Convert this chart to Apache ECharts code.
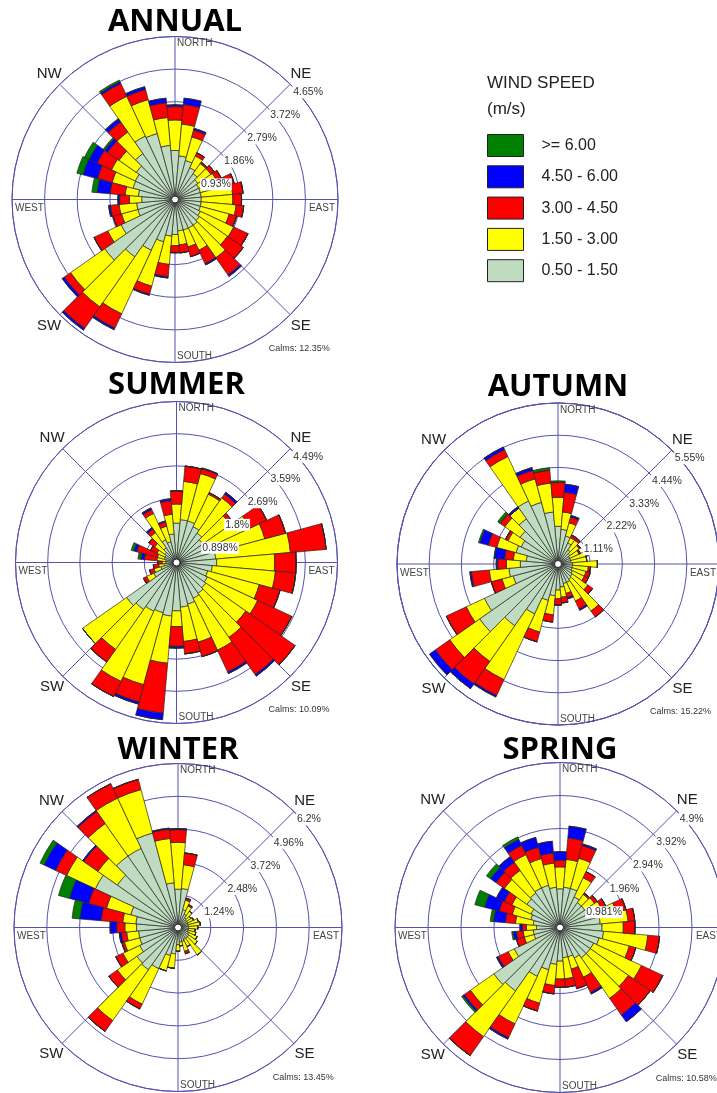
<!DOCTYPE html>
<html>
<head>
<meta charset="utf-8">
<title>Wind roses</title>
<script src="https://cdn.jsdelivr.net/npm/echarts@6/dist/echarts.min.js"></script>
<style>
  html, body { margin: 0; padding: 0; background: #fff; }
  #chart { width: 717px; height: 1093px; }
</style>
</head>
<body>
<div id="chart"></div>
<script>
// 36 sectors of 10 degrees, clockwise from north
const directions = ['0', '10', '20', '30', '40', '50', '60', '70', '80', '90', '100', '110',
  '120', '130', '140', '150', '160', '170', '180', '190', '200', '210', '220', '230',
  '240', '250', '260', '270', '280', '290', '300', '310', '320', '330', '340', '350'];

// inner to outer (stack order)
const speedClasses = ['0.50 - 1.50', '1.50 - 3.00', '3.00 - 4.50', '4.50 - 6.00', '>= 6.00'];
const speedColors = ['#c0dcc0', '#ffff00', '#ff0000', '#0000ff', '#008000'];

// ---- ANNUAL (% of time) ----
const annualRings = [0.93, 1.86, 2.79, 3.72, 4.65];
const annualCalms = 12.35;
const annual050 = [1.40, 1.25, 1.15, 1.00, 0.90, 0.80, 0.75, 0.75, 0.75, 0.75, 0.75, 0.75, 0.80, 0.85, 0.90, 0.90, 0.90, 0.90, 1.00, 1.05, 1.25, 1.60, 2.00, 2.45, 1.70, 1.10, 1.10, 0.95, 1.05, 1.24, 1.25, 1.35, 1.60, 2.00, 1.95, 1.55];
const annual150 = [0.87, 0.91, 0.70, 0.37, 0.35, 0.45, 0.55, 0.75, 0.90, 0.90, 1.00, 0.85, 1.05, 0.98, 1.13, 0.70, 0.50, 0.40, 0.32, 0.81, 1.31, 2.00, 1.74, 1.19, 0.42, 0.48, 0.50, 0.35, 0.38, 0.62, 0.75, 0.60, 0.75, 1.25, 1.00, 0.80];
const annual300 = [0.38, 0.56, 0.20, 0.10, 0.05, 0.12, 0.15, 0.25, 0.30, 0.25, 0.22, 0.22, 0.45, 0.55, 0.60, 0.42, 0.29, 0.23, 0.20, 0.35, 0.24, 0.45, 0.75, 0.22, 0.43, 0.25, 0.25, 0.28, 0.43, 0.43, 0.45, 0.40, 0.35, 0.40, 0.30, 0.42];
const annual450 = [0.05, 0.18, 0.05, 0, 0, 0, 0, 0, 0, 0, 0, 0, 0, 0, 0.05, 0.04, 0, 0, 0, 0.04, 0.03, 0.05, 0.06, 0.07, 0, 0, 0.05, 0.05, 0.37, 0.43, 0.25, 0.10, 0.10, 0.06, 0.08, 0.13];
const annual600 = [0, 0, 0, 0, 0, 0, 0, 0, 0, 0, 0, 0, 0, 0, 0, 0, 0, 0, 0, 0, 0, 0, 0, 0, 0, 0, 0, 0, 0.15, 0.18, 0.15, 0.05, 0.02, 0.05, 0, 0];

// ---- SUMMER ----
const summerRings = [0.898, 1.8, 2.69, 3.59, 4.49];
const summerCalms = 10.09;
const summer050 = [1.1, 1.2, 1.2, 1.1, 1.0, 0.9, 1.0, 1.05, 1.1, 1.12, 1.0, 0.9, 0.95, 1.0, 1.05, 1.1, 1.2, 1.25, 1.35, 1.5, 1.45, 1.5, 1.6, 1.7, 0.7, 0.45, 0.35, 0.3, 0.3, 0.35, 0.35, 0.4, 0.5, 0.7, 0.6, 0.8];
const summer150 = [0.53, 1.07, 1.37, 1.0, 1.2, 0.94, 1.25, 1.5, 2.09, 1.62, 1.77, 1.49, 1.55, 1.36, 1.5, 1.6, 1.1, 0.96, 0.44, 1.32, 2.08, 2.16, 1.36, 1.5, 0.22, 0.2, 0.15, 0.1, 0.25, 0.2, 0.25, 0.35, 0.52, 0.81, 0.45, 0.55];
const summer300 = [0.37, 0.43, 0.14, 0.05, 0.13, 0.1, 0.53, 0.6, 1.0, 0.6, 0.57, 0.6, 1.05, 1.68, 1.27, 0.67, 0.42, 0.35, 0.55, 1.4, 0.5, 0.47, 0.43, 0, 0.1, 0.13, 0.15, 0.12, 0.35, 0.6, 0.2, 0.2, 0.12, 0.12, 0.12, 0.38];
const summer450 = [0, 0, 0.02, 0, 0.06, 0, 0, 0, 0, 0, 0, 0, 0, 0, 0.05, 0.05, 0, 0, 0.05, 0.18, 0.06, 0, 0, 0, 0, 0, 0, 0, 0.1, 0.08, 0, 0, 0.05, 0.05, 0.03, 0.05];
const summer600 = [0, 0, 0, 0, 0, 0, 0, 0, 0, 0, 0, 0, 0, 0, 0, 0, 0, 0, 0, 0, 0, 0, 0, 0, 0, 0, 0, 0, 0.08, 0.08, 0, 0, 0, 0, 0, 0];

// ---- AUTUMN ----
const autumnRings = [1.11, 2.22, 3.33, 4.44, 5.55];
const autumnCalms = 15.22;
const autumn050 = [1.3, 1.2, 1.0, 0.8, 0.6, 0.5, 0.45, 0.45, 0.45, 0.5, 0.5, 0.5, 0.55, 0.6, 0.65, 0.7, 0.7, 0.8, 0.9, 1.1, 1.3, 1.9, 2.6, 3.3, 2.8, 1.6, 1.7, 1.3, 1.1, 1.5, 1.4, 1.6, 1.9, 2.4, 2.2, 1.8];
const autumn150 = [1.0, 0.6, 0.47, 0.2, 0.4, 0.4, 0.35, 0.55, 0.55, 0.86, 0.55, 0.5, 0.45, 0.66, 1.33, 0.71, 0.35, 0.35, 0.3, 0.66, 1.13, 2.5, 1.5, 1.26, 0.69, 0.4, 0.68, 0.48, 0.45, 0.69, 0.5, 0.64, 0.45, 1.69, 0.84, 1.0];
const autumn300 = [0.52, 0.68, 0.2, 0.1, 0.08, 0.05, 0.05, 0.08, 0, 0, 0.08, 0.15, 0.15, 0.2, 0.25, 0.3, 0.15, 0.2, 0.22, 0.25, 0.35, 0.6, 0.95, 0.6, 0.76, 0.38, 0.62, 0.3, 0.3, 0.3, 0.1, 0.2, 0, 0.26, 0.3, 0.45];
const autumn450 = [0, 0.28, 0.06, 0, 0, 0, 0, 0, 0, 0, 0, 0, 0, 0, 0, 0.05, 0.05, 0, 0, 0, 0, 0.06, 0.2, 0.25, 0, 0, 0.05, 0.05, 0.35, 0.3, 0, 0, 0.06, 0.1, 0.1, 0];
const autumn600 = [0.05, 0, 0, 0, 0, 0, 0, 0, 0, 0, 0, 0, 0, 0, 0, 0, 0, 0, 0, 0, 0, 0, 0, 0, 0, 0, 0, 0, 0.02, 0.05, 0, 0.1, 0, 0, 0, 0.08];

// ---- WINTER ----
const winterRings = [1.24, 2.48, 3.72, 4.96, 6.2];
const winterCalms = 13.45;
const winter050 = [1.45, 1.48, 0.7, 0.55, 0.45, 0.4, 0.4, 0.4, 0.4, 0.4, 0.4, 0.4, 0.45, 0.5, 0.5, 0.5, 0.55, 0.55, 0.65, 1.0, 1.1, 1.72, 1.95, 1.9, 1.6, 1.5, 1.5, 1.57, 1.6, 1.85, 3.45, 2.8, 3.3, 3.3, 3.7, 1.7];
const winter150 = [1.77, 0.9, 0.37, 0.35, 0.3, 0.2, 0.25, 0.4, 0.45, 0.35, 0.25, 0.3, 0.35, 0.4, 0.77, 0.3, 0.38, 0.15, 0.25, 0.55, 0.6, 1.48, 2.35, 0.9, 0.7, 0.6, 0.45, 0.44, 0.5, 0.95, 1.2, 0.9, 1.5, 2.1, 1.7, 1.68];
const winter300 = [0.48, 0.45, 0.08, 0.05, 0, 0, 0, 0, 0, 0, 0, 0, 0, 0, 0, 0, 0.1, 0, 0, 0, 0, 0.2, 0.5, 0.4, 0.3, 0.1, 0.2, 0.31, 0.82, 0.7, 0.46, 0.65, 0.55, 0.6, 0.4, 0.35];
const winter450 = [0.04, 0, 0, 0, 0, 0, 0, 0, 0, 0, 0, 0, 0, 0, 0, 0, 0, 0, 0, 0, 0, 0, 0, 0, 0, 0, 0.08, 0.25, 0.8, 0.75, 0.48, 0.05, 0.05, 0, 0, 0.04];
const winter600 = [0, 0, 0, 0, 0, 0, 0, 0, 0, 0, 0, 0, 0, 0, 0, 0, 0, 0, 0, 0, 0, 0, 0, 0, 0, 0, 0, 0, 0.3, 0.43, 0.17, 0, 0, 0, 0, 0];

// ---- SPRING ----
const springRings = [0.981, 1.96, 2.94, 3.92, 4.9];
const springCalms = 10.58;
const spring050 = [1.15, 1.2, 1.2, 1.0, 0.9, 0.9, 1.0, 1.1, 1.2, 1.25, 1.3, 1.2, 1.1, 1.1, 1.1, 1.0, 0.9, 0.9, 1.0, 1.1, 1.3, 1.6, 2.3, 2.4, 1.5, 0.8, 0.8, 0.7, 0.8, 0.9, 0.95, 1.2, 1.25, 1.3, 1.3, 1.2];
const spring150 = [0.65, 0.83, 0.93, 0.63, 0.3, 0.35, 0.35, 0.63, 0.83, 0.63, 1.32, 0.93, 1.57, 1.38, 1.47, 0.63, 0.38, 0.63, 0.53, 0.63, 1.03, 1.56, 1.66, 0.85, 0.2, 0.3, 0.3, 0.3, 0.53, 0.57, 0.63, 0.82, 0.82, 1.09, 0.82, 0.72];
const spring300 = [0.2, 0.64, 0.39, 0.2, 0.05, 0.1, 0.15, 0.3, 0.2, 0.35, 0.35, 0.2, 0.7, 0.79, 0.6, 0.5, 0.6, 0.25, 0.25, 0.25, 0.24, 0.45, 0.69, 0.22, 0.33, 0.24, 0.2, 0.12, 0.3, 0.4, 0.25, 0.3, 0.3, 0.3, 0.35, 0.3];
const spring450 = [0.25, 0.35, 0.05, 0, 0, 0, 0, 0, 0, 0, 0, 0, 0, 0, 0.25, 0.05, 0, 0, 0, 0, 0, 0.05, 0, 0.05, 0.05, 0, 0.1, 0.07, 0.35, 0.45, 0.25, 0.2, 0.2, 0.2, 0.3, 0.35];
const spring600 = [0, 0, 0, 0, 0, 0, 0, 0, 0, 0, 0, 0, 0, 0, 0, 0, 0, 0, 0, 0, 0, 0, 0, 0.05, 0, 0, 0.04, 0, 0.1, 0.3, 0, 0.15, 0, 0.08, 0, 0];

const roses = [
  { title: 'ANNUAL', center: [175, 199.5], radius: 163, rings: annualRings, calms: annualCalms,
    data: [annual050, annual150, annual300, annual450, annual600] },
  { title: 'SUMMER', center: [176.5, 562.5], radius: 161, rings: summerRings, calms: summerCalms,
    data: [summer050, summer150, summer300, summer450, summer600] },
  { title: 'AUTUMN', center: [558, 564], radius: 161, rings: autumnRings, calms: autumnCalms,
    data: [autumn050, autumn150, autumn300, autumn450, autumn600] },
  { title: 'WINTER', center: [178, 927.5], radius: 164, rings: winterRings, calms: winterCalms,
    data: [winter050, winter150, winter300, winter450, winter600] },
  { title: 'SPRING', center: [560, 927.5], radius: 165, rings: springRings, calms: springCalms,
    data: [spring050, spring150, spring300, spring450, spring600] }
];

const gridColor = '#5454ad';
const polar = [], angleAxis = [], radiusAxis = [], series = [], graphics = [];

function textEl(x, y, text, style) {
  return { type: 'text', x: x, y: y, z: 100, silent: true,
    style: Object.assign({ text: text, fill: '#222', align: 'left', verticalAlign: 'middle' }, style) };
}

roses.forEach(function (rose, i) {
  const cx = rose.center[0], cy = rose.center[1], R = rose.radius;
  const max = rose.rings[rose.rings.length - 1];

  // polar used only for the grid: rings + 8 compass spokes
  polar.push({ center: [cx, cy], radius: R });
  angleAxis.push({
    polarIndex: 2 * i, type: 'value', min: 0, max: 360, interval: 45, startAngle: 90, clockwise: true,
    axisLine: { lineStyle: { color: gridColor, width: 1 } },
    axisTick: { show: false }, axisLabel: { show: false },
    splitLine: { show: true, lineStyle: { color: gridColor, width: 1 } }
  });
  radiusAxis.push({
    polarIndex: 2 * i, type: 'value', min: 0, max: max, interval: max / 5,
    axisLine: { show: false }, axisTick: { show: false }, axisLabel: { show: false },
    splitLine: { show: true, lineStyle: { color: gridColor, width: 1 } }
  });

  // polar holding the stacked sector bars (sector 0 centred on north)
  polar.push({ center: [cx, cy], radius: R });
  angleAxis.push({ polarIndex: 2 * i + 1, type: 'category', data: directions, startAngle: 95, clockwise: true, show: false });
  radiusAxis.push({ polarIndex: 2 * i + 1, type: 'value', min: 0, max: max, show: false });

  rose.data.forEach(function (values, k) {
    series.push({
      name: speedClasses[k], type: 'bar', coordinateSystem: 'polar', polarIndex: 2 * i + 1,
      stack: 'rose' + i, data: values, barCategoryGap: '0%', silent: true,
      itemStyle: { color: speedColors[k], borderColor: '#262626', borderWidth: 0.7 }
    });
  });

  // title
  graphics.push(textEl(cx, cy - 177, rose.title, {
    align: 'center', font: 'bold 31px "Open Sans"', fill: '#000'
  }));

  // compass words
  const small = { font: '10px "Liberation Sans"', fill: '#444' };
  graphics.push(textEl(cx + 2, cy - R + 7, 'NORTH', small));
  graphics.push(textEl(cx + 2, cy + R - 6, 'SOUTH', small));
  graphics.push(textEl(cx - R + 3, cy + 9, 'WEST', small));
  graphics.push(textEl(cx + R - 3, cy + 9, 'EAST', Object.assign({ align: 'right' }, small)));
  const d = (R + 15) * Math.SQRT1_2;
  const big = { font: '15px "Liberation Sans"', fill: '#222', align: 'center' };
  graphics.push(textEl(cx + d, cy - d, 'NE', big));
  graphics.push(textEl(cx - d, cy - d, 'NW', big));
  graphics.push(textEl(cx - d, cy + d, 'SW', big));
  graphics.push(textEl(cx + d, cy + d, 'SE', big));

  // ring values along the NE spoke
  rose.rings.forEach(function (v) {
    const r = v / max * R * Math.SQRT1_2;
    graphics.push(textEl(cx + r + 2, cy - r + 8, v + '%', {
      font: '10.5px "Liberation Sans"', fill: '#333', backgroundColor: '#fff', padding: [1, 1, 0, 1]
    }));
  });

  graphics.push(textEl(cx + R * 0.95, cy + R * 0.915, 'Calms: ' + rose.calms.toFixed(2) + '%', {
    font: '9px "Liberation Sans"', fill: '#333', align: 'right'
  }));

  // calm circle in the middle
  graphics.push({ type: 'circle', z: 100, silent: true, shape: { cx: cx, cy: cy, r: 3.5 },
    style: { fill: '#fff', stroke: '#222', lineWidth: 1 } });
});

graphics.push(textEl(487, 83, 'WIND SPEED', { font: '17px "Liberation Sans"', fill: '#222' }));
graphics.push(textEl(487, 109, '(m/s)', { font: '17px "Liberation Sans"', fill: '#222' }));

const chart = echarts.init(document.getElementById('chart'));
chart.setOption({
  animation: false,
  backgroundColor: '#fff',
  polar: polar,
  angleAxis: angleAxis,
  radiusAxis: radiusAxis,
  legend: {
    data: speedClasses.slice().reverse(),
    orient: 'vertical', left: 487, top: 134, padding: 0,
    itemWidth: 36, itemHeight: 22, itemGap: 8.3, icon: 'rect', selectedMode: false,
    itemStyle: { borderColor: '#222', borderWidth: 1 },
    textStyle: { fontSize: 16, color: '#222', fontFamily: 'Liberation Sans', padding: [0, 0, 0, 13] }
  },
  graphic: { elements: graphics },
  series: series
});
</script>
</body>
</html>
